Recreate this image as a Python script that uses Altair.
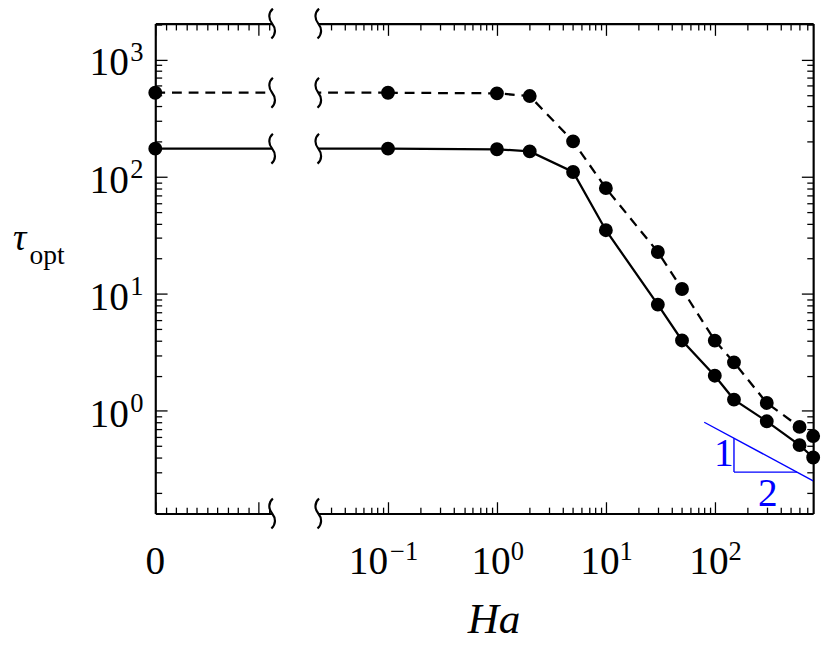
import altair as alt
import pandas as pd

# ---------------- data ----------------
ha = [0, 0.1, 1, 2, 5, 10, 30, 50, 100, 150, 300, 600, 800]
tau_dashed = [523, 523, 517, 490, 201, 80, 22.8, 11.0, 3.99, 2.60, 1.17, 0.73, 0.61]
tau_solid = [174, 174, 172, 165, 110, 35, 8.1, 4.0, 2.0, 1.25, 0.815, 0.51, 0.40]

# slope triangle (slope -1/2) annotation
slope_x = [80, 800]
slope_y = [0.8, 0.253]
leg_v_x = [150, 150]
leg_v_y = [0.584, 0.30]
leg_h_x = [150, 569]
leg_h_y = [0.30, 0.30]
slope_labels = ["1", "2"]
slope_label_x = [121, 307]
slope_label_y = [0.43, 0.193]

y_ticks = [1, 10, 100, 1000]
y_tick_exp = ["0", "1", "2", "3"]
x_ticks = [0.1, 1, 10, 100]
x_tick_exp = ["−1", "0", "1", "2"]
x0_ticks = [0, 0.01]
x0_tick_labels = ["0"]

# ---------------- geometry ----------------
W1, W2, H, GAP = 119, 504, 499, 31
ydom = [0.1328, 2039]
xdom_r = [0.0229, 800]
xdom_l = [0, 0.01133]
MAJ, MIN = 12, 6.5
FONT = "Liberation Serif"
FS = 40      # base of tick labels
FSE = 27     # exponent


def log_minor(lo, hi):
    out = []
    for e in range(-3, 4):
        for k in range(2, 10):
            v = k * 10.0 ** e
            if lo < v < hi:
                out.append(v)
    return out


def ax(orient, values, size=None, domain=False, offset=0):
    kw = dict(orient=orient, values=values, grid=False, labels=False, domain=domain,
              title=None, offset=offset, domainColor="black", domainWidth=2.2,
              tickColor="black", tickWidth=1.3)
    if size is None:
        kw["ticks"] = False
    else:
        kw["ticks"] = True
        kw["tickSize"] = size
    return alt.Axis(**kw)


ys = alt.Scale(type="log", domain=ydom, nice=False)
xs_r = alt.Scale(type="log", domain=xdom_r, nice=False)
xs_l = alt.Scale(type="linear", domain=xdom_l, nice=False, zero=False)

rows = []
for h, d, s in zip(ha, tau_dashed, tau_solid):
    rows.append({"ha": h, "tau": d, "series": "dashed"})
    rows.append({"ha": h, "tau": s, "series": "solid"})
df = pd.DataFrame(rows)
df_d = df[df.series == "dashed"]
df_s = df[df.series == "solid"]

y_minor = log_minor(ydom[0], ydom[1])
xr_minor = log_minor(xdom_r[0], xdom_r[1])
xl_minor = [i * 0.001 for i in range(1, 12) if i != 10]

DASH = [10, 7]
LW = 2.3
PT = 200
BREAK_PATH = "M0.05,-1 C-0.28,-0.7 -0.24,-0.3 0,0 C0.24,0.3 0.28,0.7 -0.05,1"
brk = dict(shape=BREAK_PATH, size=930, filled=False, stroke="black", strokeWidth=2.2, opacity=1)


def ry(axis):
    return alt.Y("tau:Q", scale=ys, axis=axis)


# ================= right (log) panel =================
r_pos = df[df.ha > 0]
r_d = df_d[df_d.ha > 0]
r_s = df_s[df_s.ha > 0]


def rx(axis, field="ha:Q"):
    return alt.X(field, scale=xs_r, axis=axis)


r1 = alt.Chart(r_d).mark_line(color="black", strokeWidth=LW, strokeDash=DASH, clip=True).encode(
    x=rx(ax("bottom", x_ticks, domain=True)),
    y=ry(ax("left", y_ticks, size=MAJ, domain=True, offset=-W2)),
)
r2 = alt.Chart(r_s).mark_line(color="black", strokeWidth=LW, clip=True).encode(
    x=rx(ax("top", x_ticks, size=MAJ, offset=-H)),
    y=ry(ax("left", y_minor, size=MIN, offset=-W2)),
)
r3 = alt.Chart(r_pos).mark_circle(color="black", size=PT, opacity=1).encode(
    x=rx(ax("bottom", x_ticks, size=MAJ, domain=True, offset=-H)),
    y=ry(None),
)
r4 = alt.Chart(r_pos).mark_point(opacity=0).encode(
    x=rx(ax("bottom", xr_minor, size=MIN, offset=-H)), y=ry(None))
r5 = alt.Chart(r_pos).mark_point(opacity=0).encode(
    x=rx(ax("top", xr_minor, size=MIN, offset=-H)), y=ry(None))

# continuation of the lines from the axis break to the first positive Ha
cont = pd.DataFrame({"next": [ha[1], ha[1]], "tau": [tau_dashed[0], tau_solid[0]],
                     "series": ["dashed", "solid"]})
r6 = alt.Chart(cont[cont.series == "dashed"]).mark_rule(color="black", strokeWidth=LW, strokeDash=DASH).encode(
    x=rx(None, "next:Q"), x2=alt.value(0), y=ry(None))
r7 = alt.Chart(cont[cont.series == "solid"]).mark_rule(color="black", strokeWidth=LW).encode(
    x=rx(None, "next:Q"), x2=alt.value(0), y=ry(None))

# slope triangle
blue = "#0000ff"
tri_line = pd.DataFrame({"ha": slope_x, "tau": slope_y})
tri_v = pd.DataFrame({"ha": leg_v_x, "tau": leg_v_y})
tri_h = pd.DataFrame({"ha": leg_h_x, "tau": leg_h_y})
tri_t = pd.DataFrame({"ha": slope_label_x, "tau": slope_label_y, "t": slope_labels})
r8 = alt.Chart(tri_line).mark_line(color=blue, strokeWidth=1.4, clip=True).encode(x=rx(None), y=ry(None))
r9 = alt.Chart(tri_v).mark_line(color=blue, strokeWidth=1.4).encode(x=rx(None), y=ry(None))
r10 = alt.Chart(tri_h).mark_line(color=blue, strokeWidth=1.4).encode(x=rx(None), y=ry(None))
r11 = alt.Chart(tri_t).mark_text(color=blue, font=FONT, fontSize=FS, baseline="middle", align="center").encode(
    x=rx(None), y=ry(None), text="t:N")

# break symbols on the left edge of the right panel
r12 = alt.Chart(cont).mark_point(**brk).encode(x=alt.value(0), y=ry(None))
r13 = alt.Chart(cont.head(1)).mark_point(**brk).encode(x=alt.value(0), y=alt.value(0))
r14 = alt.Chart(cont.head(1)).mark_point(**brk).encode(x=alt.value(0), y=alt.value(H))

# x tick labels 10^k
xl = pd.DataFrame({"tick": x_ticks, "base": ["10"] * len(x_ticks), "exp": x_tick_exp})
xl_neg = xl[[e.startswith("−") for e in x_tick_exp]]
xl_pos = xl[[not e.startswith("−") for e in x_tick_exp]]
txt = dict(font=FONT, color="black", baseline="alphabetic")
r15 = alt.Chart(xl_neg).mark_text(align="right", dx=0, fontSize=FS, **txt).encode(
    x=rx(None, "tick:Q"), y=alt.value(H + 62), text="base:N")
r16 = alt.Chart(xl_neg).mark_text(align="left", dx=2, fontSize=FSE, **txt).encode(
    x=rx(None, "tick:Q"), y=alt.value(H + 47), text="exp:N")
r17 = alt.Chart(xl_pos).mark_text(align="right", dx=14, fontSize=FS, **txt).encode(
    x=rx(None, "tick:Q"), y=alt.value(H + 62), text="base:N")
r18 = alt.Chart(xl_pos).mark_text(align="left", dx=14, fontSize=FSE, **txt).encode(
    x=rx(None, "tick:Q"), y=alt.value(H + 47), text="exp:N")

# x title
r19 = alt.Chart(cont.head(1)).mark_text(text="Ha", font=FONT, fontSize=44, fontStyle="italic",
                                        color="black", baseline="alphabetic", align="center").encode(
    x=alt.value(179), y=alt.value(H + 122))

right = alt.layer(r1, r2, r3, r4, r5, r6, r7, r8, r9, r10, r11, r12, r13, r14,
                  r15, r16, r17, r18, r19).resolve_axis(
    x="independent", y="independent").properties(width=W2, height=H)

# ================= left (x = 0) panel =================
l_d = df_d[df_d.ha <= ha[1]]
l_s = df_s[df_s.ha <= ha[1]]
l_pts = df[df.ha == 0]


def lx(axis, field="ha:Q"):
    return alt.X(field, scale=xs_l, axis=axis)


l1 = alt.Chart(l_d).mark_line(color="black", strokeWidth=LW, strokeDash=DASH, clip=True).encode(
    x=lx(ax("bottom", [0], domain=True)),
    y=ry(ax("left", y_ticks, domain=True)),
)
l2 = alt.Chart(l_s).mark_line(color="black", strokeWidth=LW, clip=True).encode(
    x=lx(ax("top", x0_ticks, size=MAJ, offset=-H)),
    y=ry(ax("right", y_ticks, size=MAJ, offset=-W1)),
)
l3 = alt.Chart(l_pts).mark_circle(color="black", size=PT, opacity=1).encode(
    x=lx(ax("bottom", x0_ticks, size=MAJ, domain=True, offset=-H)),
    y=ry(ax("right", y_minor, size=MIN, offset=-W1)),
)
l4 = alt.Chart(l_pts).mark_point(opacity=0).encode(
    x=lx(ax("bottom", xl_minor, size=MIN, offset=-H)), y=ry(None))
l5 = alt.Chart(l_pts).mark_point(opacity=0).encode(
    x=lx(ax("top", xl_minor, size=MIN, offset=-H)), y=ry(None))
l6 = alt.Chart(cont).mark_point(**brk).encode(x=alt.value(W1), y=ry(None))
l7 = alt.Chart(cont.head(1)).mark_point(**brk).encode(x=alt.value(W1), y=alt.value(0))
l8 = alt.Chart(cont.head(1)).mark_point(**brk).encode(x=alt.value(W1), y=alt.value(H))

# y tick labels 10^k
yl = pd.DataFrame({"tick": y_ticks, "base": ["10"] * len(y_ticks), "exp": y_tick_exp})
l9 = alt.Chart(yl).mark_text(align="right", dy=16, fontSize=FS, **txt).encode(
    x=alt.value(-27), y=alt.Y("tick:Q", scale=ys, axis=None), text="base:N")
l10 = alt.Chart(yl).mark_text(align="right", dy=1, fontSize=FSE, **txt).encode(
    x=alt.value(-12), y=alt.Y("tick:Q", scale=ys, axis=None), text="exp:N")
# x tick label "0"
x0l = pd.DataFrame({"tick": [x0_ticks[0]], "lab": x0_tick_labels})
l11 = alt.Chart(x0l).mark_text(align="center", fontSize=FS, **txt).encode(
    x=lx(None, "tick:Q"), y=alt.value(H + 62), text="lab:N")

# y title tau_opt
l12 = alt.Chart(cont.head(1)).mark_text(text="τ", font=FONT, fontSize=38, fontStyle="italic", color="black",
                                        baseline="alphabetic", align="left").encode(x=alt.value(-145), y=alt.value(231))
l13 = alt.Chart(cont.head(1)).mark_text(text="opt", font=FONT, fontSize=28, color="black",
                                        baseline="alphabetic", align="left").encode(x=alt.value(-128), y=alt.value(245))

left = alt.layer(l1, l2, l3, l4, l5, l6, l7, l8, l9, l10, l11, l12, l13).resolve_axis(
    x="independent", y="independent").properties(width=W1, height=H)

chart = alt.hconcat(left, right, spacing=GAP).configure_view(stroke=None).properties(
    background="white", padding={"left": 5, "top": -10, "right": 1, "bottom": -4})

chart.save("out.html", embed_options={"renderer": "svg", "actions": False})
